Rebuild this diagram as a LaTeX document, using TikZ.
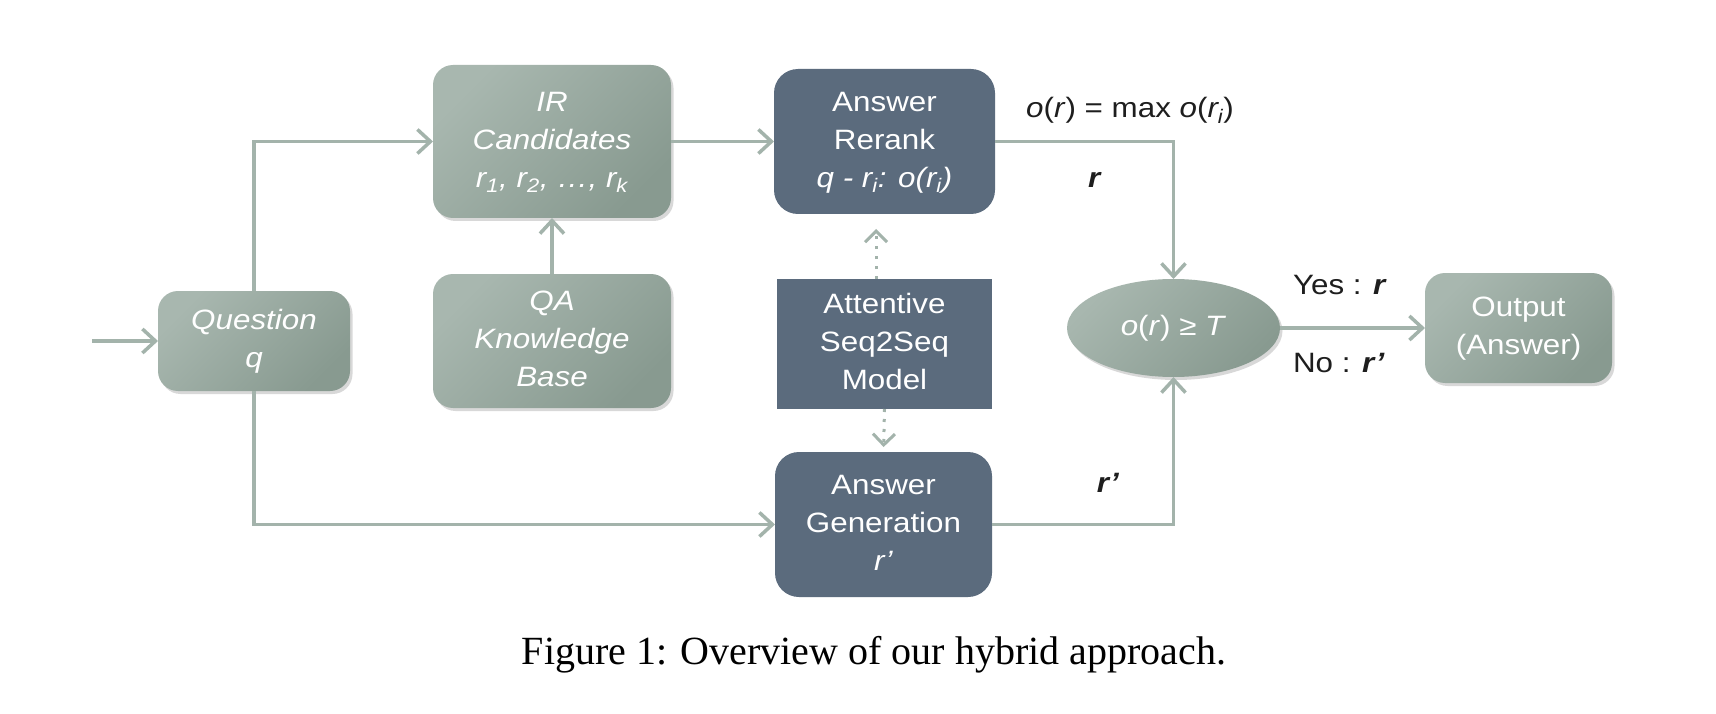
\documentclass[tikz,border=0pt]{standalone}
\usepackage{fontspec}
\setmainfont{Liberation Sans}
\newfontfamily\capfont{Liberation Serif}
\usepackage{graphicx}
\usetikzlibrary{arrows.meta,shadows,shapes.geometric}
\definecolor{gA}{HTML}{A8B7AF}
\definecolor{gB}{HTML}{889A90}
\definecolor{dk}{HTML}{5B6B7D}
\definecolor{ln}{HTML}{A3B3AB}
\definecolor{txt}{HTML}{1E1E1E}
\newcommand{\hs}[1]{\scalebox{1.12}[1]{\begin{tabular}{@{}c@{}}#1\end{tabular}}}
\begin{document}
\begin{tikzpicture}[x=1pt,y=-1pt,
  font=\fontsize{28}{38}\selectfont,
  every node/.style={inner sep=0pt, outer sep=0pt},
  lbox/.style={rounded corners=20pt, top color=gA, bottom color=gB, shading angle=45, text=white,
    drop shadow={shadow xshift=2.5pt, shadow yshift=-3pt, opacity=0.3}},
  dbox/.style={rounded corners=24pt, fill=dk, text=white},
  sbox/.style={fill=dk, text=white},
  conn/.style={draw=ln, line width=3.5pt, -{Straight Barb[length=13pt,width=24pt]}},
  dotc/.style={draw=ln, line width=3pt, dash pattern=on 3pt off 7pt, -{Straight Barb[length=11pt,width=22pt]}},
  lab/.style={text=txt}
]
\fill[white] (0,0) rectangle (1716,714);
\useasboundingbox (0,0) rectangle (1716,714);

\node[lbox, minimum width=192pt, minimum height=100pt] (q) at (254,341) {\hs{\textit{Question}\\\textit{q}}};
\node[lbox, minimum width=238pt, minimum height=153pt] (ir) at (552,141.5) {\hs{\textit{IR}\\\textit{Candidates}\\\textit{r\textsubscript{1}, r\textsubscript{2}, …, r\textsubscript{k}}}};
\node[lbox, minimum width=238pt, minimum height=134pt] (qa) at (552,341) {\hs{\textit{QA}\\\textit{Knowledge}\\\textit{Base}}};
\node[dbox, minimum width=221pt, minimum height=145pt] (rr) at (884.5,141.5) {\hs{Answer\\Rerank\\\textit{q - r\textsubscript{i}: o(r\textsubscript{i})}}};
\node[sbox, minimum width=215pt, minimum height=130pt] (att) at (884.5,344) {\hs{Attentive\\Seq2Seq\\Model}};
\node[dbox, minimum width=217pt, minimum height=145pt] (gen) at (883.5,524.5) {\hs{Answer\\Generation\\\textit{r’}}};
\node[ellipse, top color=gA, bottom color=gB, shading angle=45, text=white,
  drop shadow={shadow xshift=2.5pt, shadow yshift=-3pt, opacity=0.3},
  minimum width=213pt, minimum height=98pt] (th) at (1173.5,328) {\hs{\textit{o}(\textit{r}) ≥ \textit{T}}};
\node[lbox, minimum width=187pt, minimum height=110pt] (out) at (1518.5,328) {\hs{Output\\(Answer)}};

\node[lab] (f1) at (1130,110) {\hs{\textit{o}(\textit{r}) = max \textit{o}(\textit{r\textsubscript{i}})}};
\node[lab] (l1) at (1095,180) {\hs{\textbf{\textit{r}}}};
\node[lab] (l2) at (1108,485) {\hs{\textbf{\textit{r’}}}};
\node[lab, anchor=west] (yes) at (1293,287) {\hs{Yes : \textbf{\textit{r}}}};
\node[lab, anchor=west] (no) at (1293,365) {\hs{No : \textbf{\textit{r’}}}};

\node[text=black, anchor=base] (cap) at (874,664) {\capfont\fontsize{40}{46}\selectfont Figure 1: Overview of our hybrid approach.};

\coordinate (src) at (92,341);
\draw[conn] (src) -- (q.west);
\draw[conn] (q.north) |- (ir.west);
\draw[conn] (qa.north) -- (ir.south);
\draw[conn] (ir.east) -- (rr.west);
\draw[conn] (rr.east) -| (th.north);
\draw[conn] (q.south) |- (gen.west);
\draw[conn] (gen.east) -| (th.south);
\draw[conn] (th.east) -- (out.west);
\draw[dotc, shorten >=15pt] ([xshift=-8.5pt]att.north) -- ([xshift=-8.5pt]att.north |- rr.south);
\draw[dotc, shorten >=5pt] (att.south) -- (gen.north);
\end{tikzpicture}
\end{document}
